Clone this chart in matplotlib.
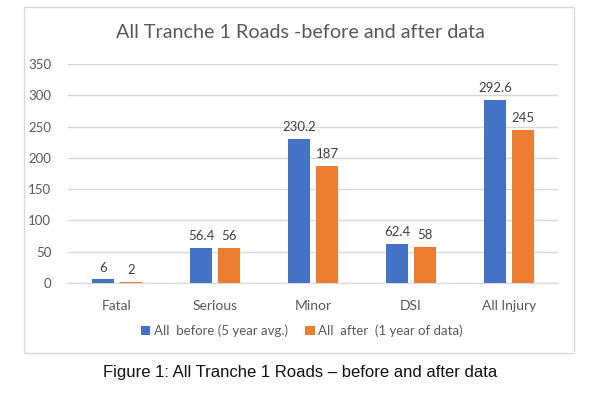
import numpy as np
import matplotlib
matplotlib.use('Agg')
import matplotlib.pyplot as plt
from matplotlib.patches import Rectangle

categories = ['Fatal', 'Serious', 'Minor', 'DSI', 'All Injury']
before = [6, 56.4, 230.2, 62.4, 292.6]
after = [2, 56, 187, 58, 245]
before_labels = ['6', '56.4', '230.2', '62.4', '292.6']
after_labels = ['2', '56', '187', '58', '245']
yticks = [0, 50, 100, 150, 200, 250, 300, 350]

blue = '#4472C4'
orange = '#ED7D31'
grey_text = '#595959'
grid_col = '#D9D9D9'
W, H = 616, 396

plt.rcParams['font.family'] = ['Lato', 'DejaVu Sans']

fig = plt.figure(figsize=(W / 100, H / 100), dpi=100)
fig.patch.set_facecolor('white')

# chart frame
fig.patches.append(Rectangle((24 / W, 1 - 353 / H), 550 / W, 346 / H,
                             transform=fig.transFigure, fill=False,
                             edgecolor='#D9D9D9', linewidth=1))

ax = fig.add_axes([68 / W, 1 - 283 / H, 490 / W, 219 / H])
x = np.arange(len(categories))
w = 0.224
off = 0.142
b1 = ax.bar(x - off, before, w, color=blue, label='All  before (5 year avg.)', zorder=3)
b2 = ax.bar(x + off, after, w, color=orange, label='All  after  (1 year of data)', zorder=3)
ax.bar_label(b1, labels=before_labels, padding=4, fontsize=9.5, color='#404040')
ax.bar_label(b2, labels=after_labels, padding=4, fontsize=9.5, color='#404040')

ax.set_xlim(-0.5, len(categories) - 0.5)
ax.set_ylim(0, 350)
ax.set_yticks(yticks)
ax.set_xticks(x)
ax.set_xticklabels(categories)
ax.tick_params(axis='both', length=0, colors=grey_text, labelsize=9.5)
ax.tick_params(axis='x', pad=12, labelsize=10)
ax.tick_params(axis='y', pad=12)
ax.yaxis.grid(True, color=grid_col, linewidth=1, zorder=0)
for s in ['top', 'right', 'left']:
    ax.spines[s].set_visible(False)
ax.spines['bottom'].set_color(grid_col)

fig.text(300 / W, 1 - 33 / H, 'All Tranche 1 Roads -before and after data',
         ha='center', va='center', fontsize=14.2, color=grey_text)

fig.legend(handles=[b1, b2], loc='center', bbox_to_anchor=(302 / W, 1 - 331 / H),
           ncol=2, frameon=False, fontsize=9.5, handlelength=0.7, handleheight=0.7,
           handletextpad=0.3, columnspacing=1.3, labelcolor=grey_text)

fig.text(300 / W, 1 - 373 / H, 'Figure 1: All Tranche 1 Roads \u2013 before and after data',
         ha='center', va='center', fontsize=12, family='Liberation Sans', color='#111111')

fig.savefig('out.png', dpi=100)
